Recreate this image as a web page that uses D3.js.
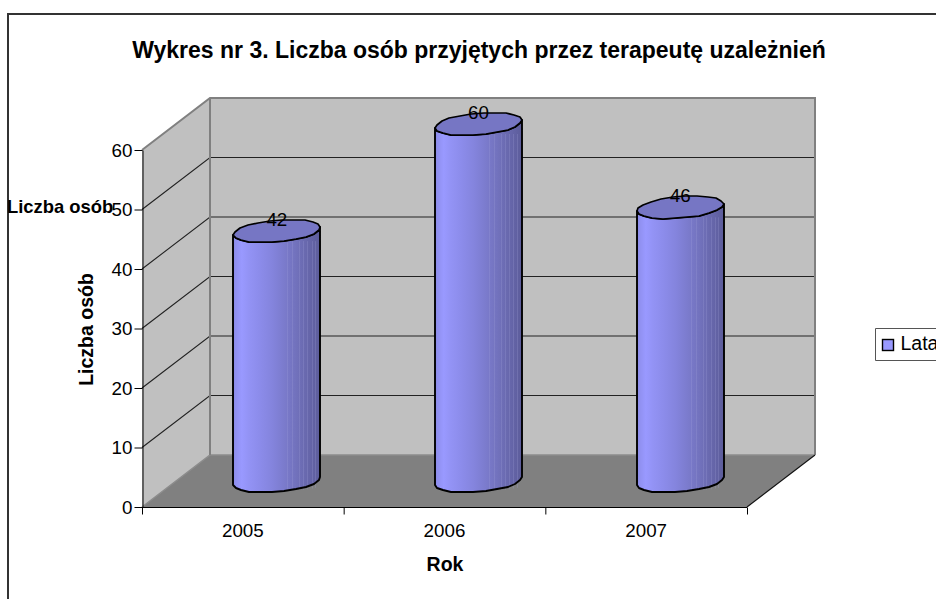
<!DOCTYPE html>
<html><head><meta charset="utf-8">
<style>html,body{margin:0;padding:0;background:#fff}svg{display:block}text{font-family:"Liberation Sans",Arial,sans-serif;fill:#000}</style>
<script src="https://cdn.jsdelivr.net/npm/d3@7/dist/d3.min.js"></script>
</head><body>
<svg id="c" width="936" height="599"></svg>
<script>
const categories = ["2005","2006","2007"];
const values = [42,60,46];
const yTicks = [0,10,20,30,40,50,60];
const seriesName = "Lata";
const chartTitle = "Wykres nr 3. Liczba osób przyjętych przez terapeutę uzależnień";
const yTitle = "Liczba osób";
const xTitle = "Rok";
const strayLabel = "Liczba osób";

const svg = d3.select("#c");
const W=936,H=599;
const depthX=68, depthY=-52;
const x = d3.scaleBand().domain(categories).range([142,747]);
const y = d3.scaleLinear().domain([0,60]).range([507,150]);
const px = (xv,yv,d)=>[xv+d*depthX, y(yv)+d*depthY];
const line = d3.line();
const x0=x.range()[0], x1=x.range()[1];
const tickFont=18.8;

// frame
svg.append("path").attr("d",`M${W+2},14H8V${H+2}`).attr("fill","none").attr("stroke","#333").attr("stroke-width",2);

// walls
svg.append("path").attr("d",line([px(x0,0,0),px(x0,0,1),px(x0,60,1),px(x0,60,0)])+"Z").attr("fill","#c0c0c0");
svg.append("path").attr("d",line([px(x0,0,1),px(x1,0,1),px(x1,60,1),px(x0,60,1)])+"Z").attr("fill","#c0c0c0");
svg.append("path").attr("d",line([px(x0,0,0),px(x1,0,0),px(x1,0,1),px(x0,0,1)])+"Z").attr("fill","#808080");

// gridlines
yTicks.slice(1,-1).forEach(t=>{
  svg.append("path").attr("d",line([px(x0,t,0),px(x0,t,1),px(x1,t,1)])).attr("fill","none").attr("stroke","#222").attr("stroke-width",1.1);
});
// wall edges
svg.append("path").attr("d",line([px(x0,60,0),px(x0,60,1),px(x1,60,1),px(x1,0,1)])).attr("fill","none").attr("stroke","#808080").attr("stroke-width",2);
svg.append("path").attr("d",line([px(x0,0,0),px(x0,0,1),px(x1,0,1)])).attr("fill","none").attr("stroke","#8c8c8c").attr("stroke-width",1.5);
svg.append("path").attr("d",line([px(x0,60,1),px(x0,0,1)])).attr("fill","none").attr("stroke","#808080").attr("stroke-width",2);
svg.append("path").attr("d",line([px(x1,0,0),px(x1,0,1)])).attr("fill","none").attr("stroke","#111").attr("stroke-width",1.1);

// axes
const axL = svg.append("g").attr("transform",`translate(${x0+.5},0)`).call(d3.axisLeft(y).tickValues(yTicks).tickSize(8).tickPadding(2).tickSizeOuter(0));
axL.selectAll("text").attr("font-size",tickFont).attr("font-family",'"Liberation Sans"').attr("fill","#111");
axL.selectAll("line,path").attr("stroke","#000");
const xTickPos=[0,1,2,3].map(i=>x0+i*x.step());
const axB = svg.append("g").attr("transform",`translate(0,${y(0)+.5})`);
axB.append("path").attr("d",`M${x0},0H${x1}`).attr("stroke","#000").attr("stroke-width",1.2);
axB.selectAll("line").data(xTickPos).join("line").attr("x1",d=>d+.5).attr("x2",d=>d+.5).attr("y1",0).attr("y2",7).attr("stroke","#000");
svg.append("g").selectAll("text").data(categories).join("text")
  .attr("x",d=>x(d)+x.bandwidth()/2).attr("y",537).attr("text-anchor","middle").attr("font-size",tickFont).attr("fill","#111").text(d=>d);

// cylinders
const defs = svg.append("defs");
const stops=[[0,"#8888e4"],[.03,"#9090f0"],[.1,"#9999ff"],[.18,"#9393f5"],[.3,"#8c8ceb"],[.45,"#8484dd"],[.6,"#7a7acb"],[.72,"#7272bd"],[.82,"#6a6ab0"],[.92,"#6262a4"],[1,"#5c5c9a"]];
const g = defs.append("linearGradient").attr("id","cyl");
stops.forEach(s=>g.append("stop").attr("offset",s[0]).attr("stop-color",s[1]));

const rx=43.5, ry=10.8, tilt=-5*Math.PI/180, nSeg=22;
const cxOf=d=>x(d)+x.bandwidth()/2+0.5*depthX;
const cyOf=v=>y(v)+0.5*depthY;
function ell(cx,cy,a){ // point on tilted ellipse, snapped to pixels for the faceted look
  const ex=rx*Math.cos(a), ey=ry*Math.sin(a);
  return [Math.round(cx+ex*Math.cos(tilt)-ey*Math.sin(tilt)), Math.round(cy+ex*Math.sin(tilt)+ey*Math.cos(tilt))];
}
const angles=d3.range(nSeg).map(i=>i/nSeg*2*Math.PI);
const highlights=[.62,.68,.76,.8,.85,.9,.94];
categories.forEach((c,i)=>{
  const v=values[i], cx=cxOf(c), tc=cyOf(v), bc=cyOf(0);
  const lowArc=angles.filter(a=>a<=Math.PI);
  const body=[...lowArc.map(a=>ell(cx,bc,a)),ell(cx,bc,Math.PI),ell(cx,tc,Math.PI),...lowArc.slice().reverse().map(a=>ell(cx,tc,a))];
  const bg=svg.append("g");
  bg.append("path").attr("d",line(body)+"Z").attr("fill","url(#cyl)");
  highlights.forEach(h=>{
    const hx=Math.round(cx-rx+2*rx*h)+.5;
    bg.append("line").attr("x1",hx).attr("x2",hx).attr("y1",tc+10).attr("y2",bc+4+6*Math.sin(Math.acos(2*h-1))).attr("stroke","#a8a8e0").attr("stroke-opacity",.22);
  });
  bg.append("path").attr("d",line(body)+"Z").attr("fill","none").attr("stroke","#000").attr("stroke-width",1.9).attr("stroke-linejoin","round");
  bg.append("path").attr("d",line(angles.map(a=>ell(cx,tc,a)))+"Z").attr("fill","#7676c4").attr("stroke","#000").attr("stroke-width",1.7).attr("stroke-linejoin","round");
  svg.append("text").attr("x",cx).attr("y",tc-5).attr("text-anchor","middle").attr("font-size",tickFont).attr("fill","#111").text(v);
});

// titles
svg.append("text").attr("x",479).attr("y",58).attr("text-anchor","middle").attr("font-size",23).attr("font-weight","bold").text(chartTitle);
svg.append("text").attr("transform","translate(93,329.5) rotate(-90)").attr("text-anchor","middle").attr("font-size",19.5).attr("font-weight","bold").text(yTitle);
svg.append("text").attr("x",445).attr("y",571).attr("text-anchor","middle").attr("font-size",19.5).attr("font-weight","bold").text(xTitle);
svg.append("text").attr("x",7).attr("y",213).attr("font-size",18.4).attr("font-weight","bold").text(strayLabel);

// legend
svg.append("path").attr("d",`M${W+2},328.5H875.5V360.5H${W+2}`).attr("fill","#fff").attr("stroke","#555").attr("stroke-width",1);
svg.append("rect").attr("x",882.5).attr("y",339.5).attr("width",11).attr("height",11).attr("fill","#9999ff").attr("stroke","#000").attr("stroke-width",1.4);
svg.append("text").attr("x",900.5).attr("y",350).attr("font-size",19.5).text(seriesName);
</script>
</body></html>
